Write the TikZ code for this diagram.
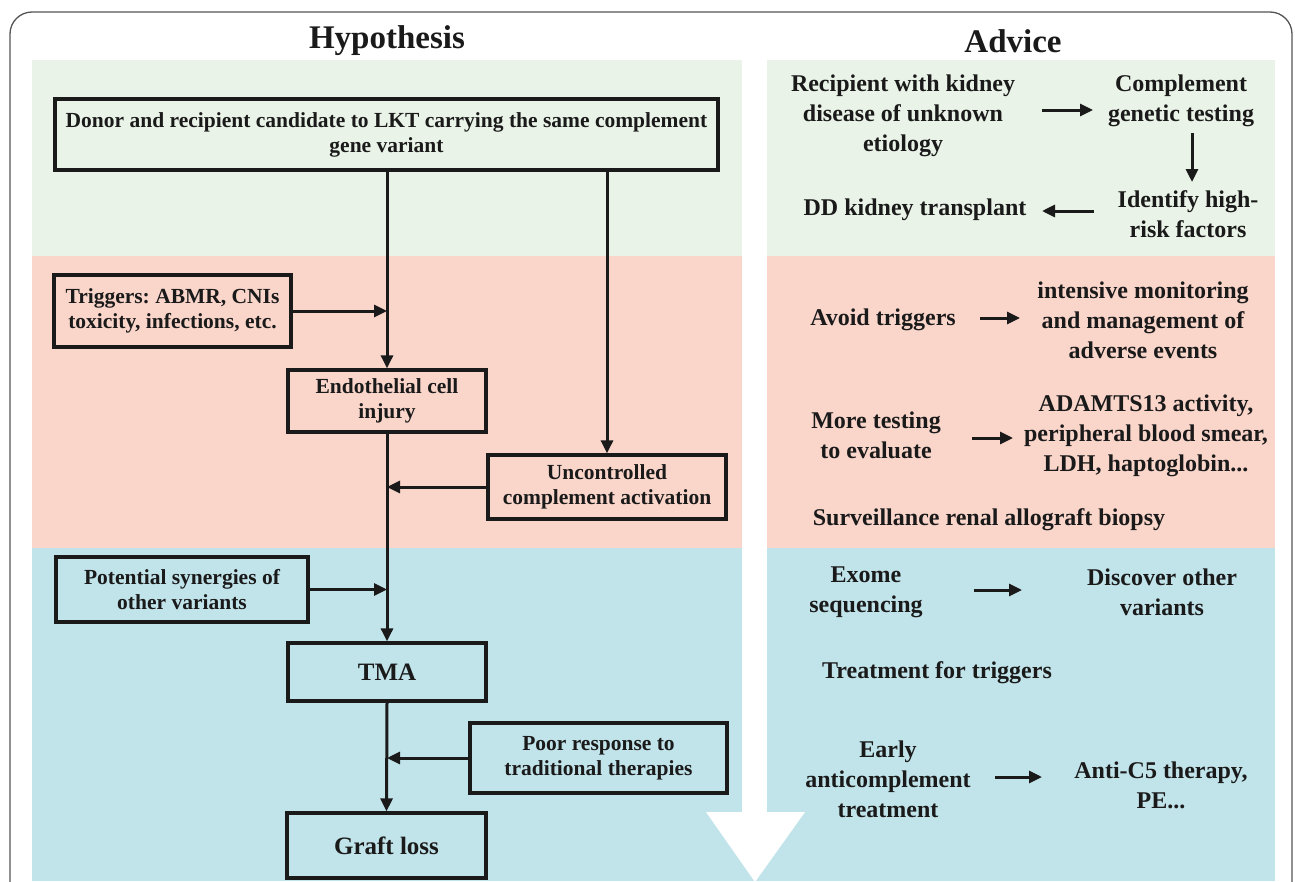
\documentclass[tikz,border=0pt]{standalone}
\usepackage{fontspec}
\setmainfont{Liberation Serif}
\usetikzlibrary{arrows.meta}
\definecolor{cgreen}{HTML}{EAF3E7}
\definecolor{cpink}{HTML}{F9D5CA}
\definecolor{cblue}{HTML}{C1E3EA}
\definecolor{ink}{HTML}{1A1A1A}
\definecolor{framec}{HTML}{555555}
\frenchspacing
\begin{document}
\begin{tikzpicture}[x=1pt,y=-1pt,
  box/.style={draw=ink, line width=3.3pt, align=center, font=\frenchspacing\bfseries\fontsize{21.5}{25}\selectfont, text=ink, inner sep=0pt},
  big/.style={box, font=\bfseries\fontsize{25}{30}\selectfont},
  adv/.style={align=center, font=\frenchspacing\bfseries\fontsize{24}{30}\selectfont, text=ink, inner sep=0pt},
  title/.style={font=\bfseries\fontsize{33}{38}\selectfont, text=ink, inner sep=0pt},
  arr/.style={draw=ink, line width=3pt, -{Triangle[length=13pt,width=12pt]}},
  ln/.style={draw=ink, line width=3pt}]
\useasboundingbox (0,0) rectangle (1295,881);
\clip (0,0) rectangle (1295,881);
% outer frame
\draw[framec, line width=1.3pt, rounded corners=22pt] (10,920) -- (10,12) -- (1292,12) -- (1292,920);
% bands
\fill[cgreen] (32,60) rectangle (742,256);
\fill[cpink] (32,256) rectangle (742,548);
\fill[cgreen] (767,60) rectangle (1275,256);
\fill[cpink] (767,256) rectangle (1275,548);
\fill[cblue] (32,548) rectangle (1275,881);
% white arrow
\fill[white] (742,548) rectangle (767,813);
\fill[white] (706,812) -- (805,812) -- (755,882) -- cycle;
% titles
\node[title] (thyp) at (387,41) {Hypothesis};
\node[title] (tadv) at (1013,41) {Advice};
% left boxes
\node[box, minimum width=663pt, minimum height=71pt] (donor) at (386.5,134.5) {Donor and recipient candidate to LKT carrying the same complement\\gene variant};
\node[box, minimum width=237pt, minimum height=72pt] (trig) at (172.5,311) {Triggers: ABMR, CNIs\\toxicity, infections, etc.};
\node[box, minimum width=198pt, minimum height=62pt] (endo) at (387,401) {Endothelial cell\\injury};
\node[box, minimum width=238pt, minimum height=64pt] (unc) at (607,487) {Uncontrolled\\complement activation};
\node[box, minimum width=252pt, minimum height=65pt] (pot) at (182,589.5) {Potential synergies of\\other variants};
\node[big, minimum width=198pt, minimum height=58pt] (tma) at (387,672) {TMA};
\node[box, minimum width=257pt, minimum height=70pt] (poor) at (598.5,758) {Poor response to\\traditional therapies};
\node[big, minimum width=199pt, minimum height=65pt] (graft) at (386.5,845.5) {Graft loss};
% left connectors
\draw[arr] (donor.south -| endo.north) -- (endo.north);
\draw[arr] (donor.south -| unc.north) -- (unc.north);
\draw[arr] (trig.east) -- (trig.east -| endo.north);
\draw[arr] (endo.south) -- (tma.north);
\draw[arr] (unc.west) -- (unc.west -| endo.south);
\draw[arr] (pot.east) -- (pot.east -| tma.north);
\draw[arr] (tma.south) -- (graft.north);
\draw[arr] (poor.west) -- (poor.west -| tma.south);
% right texts
\node[adv] (rec) at (903,116) {Recipient with kidney\\disease of unknown\\etiology};
\node[adv] (comp) at (1181,101) {Complement\\genetic testing};
\node[adv] (ident) at (1188,214) {Identify high-\\risk factors};
\node[adv] (dd) at (915,210) {DD kidney transplant};
\node[adv] (avoid) at (883,320) {Avoid triggers};
\node[adv] (inten) at (1143,320) {intensive monitoring\\and management of\\adverse events};
\node[adv] (more) at (876,435) {More testing\\to evaluate};
\node[adv] (adam) at (1146,436) {ADAMTS13 activity,\\peripheral blood smear,\\LDH, haptoglobin...};
\node[adv] (surv) at (989,520) {Surveillance renal allograft biopsy};
\node[adv] (exome) at (866,592) {Exome\\sequencing};
\node[adv] (disc) at (1162,592) {Discover other\\variants};
\node[adv] (treat) at (937,673) {Treatment for triggers};
\node[adv] (early) at (888,779) {Early\\anticomplement\\treatment};
\node[adv] (anti) at (1161,785) {Anti-C5 therapy,\\PE...};
% right connectors
\coordinate (a1s) at (1042,110); \coordinate (a1e) at (1093,110);
\coordinate (a2s) at (1192,133); \coordinate (a2e) at (1192,182);
\coordinate (a3s) at (1094,211); \coordinate (a3e) at (1042,211);
\coordinate (a4s) at (980,318); \coordinate (a4e) at (1020,318);
\coordinate (a5s) at (972,438); \coordinate (a5e) at (1013,438);
\coordinate (a6s) at (974,590); \coordinate (a6e) at (1022,590);
\coordinate (a7s) at (995,777); \coordinate (a7e) at (1042,777);
\draw[arr] (a1s) -- (a1e);
\draw[arr] (a2s) -- (a2e);
\draw[arr] (a3s) -- (a3e);
\draw[arr] (a4s) -- (a4e);
\draw[arr] (a5s) -- (a5e);
\draw[arr] (a6s) -- (a6e);
\draw[arr] (a7s) -- (a7e);
\end{tikzpicture}
\end{document}
